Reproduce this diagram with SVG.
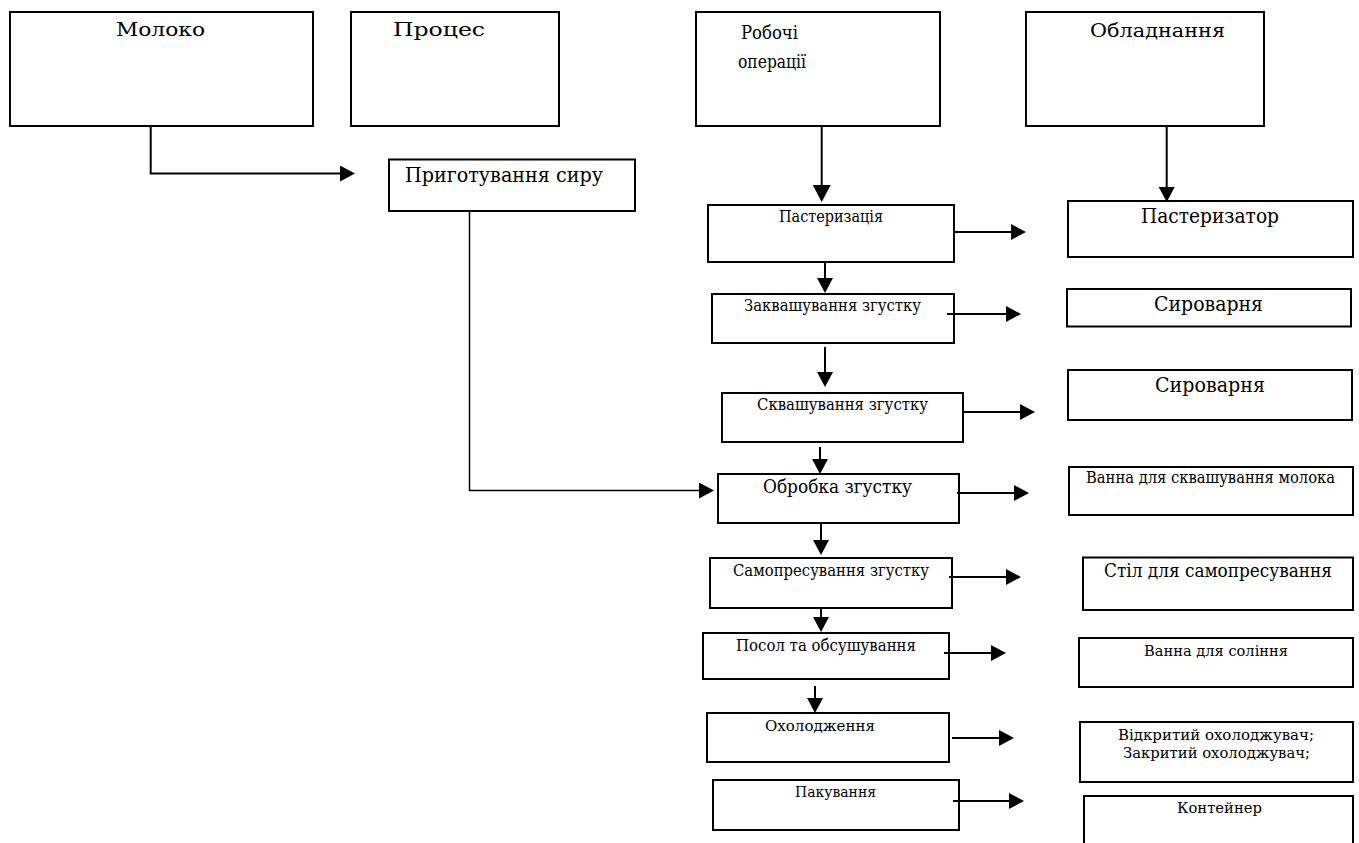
<svg xmlns="http://www.w3.org/2000/svg" width="1359" height="843" viewBox="0 0 1359 843">
<style>
.box{fill:#fff;stroke:#000;stroke-width:2}
.t{font-family:"DejaVu Serif","Liberation Serif",serif;fill:#000}
.c{fill:none;stroke:#000;stroke-width:2}
.thin{fill:none;stroke:#000;stroke-width:1.5}
</style>
<defs>
<marker id="ah" viewBox="0 0 15 16" refX="0" refY="8" markerWidth="15" markerHeight="16" markerUnits="userSpaceOnUse" orient="auto">
<path d="M0,0 L15,8 L0,16 Z" fill="#000"/>
</marker>
<marker id="ahL" viewBox="0 0 17 18" refX="0" refY="9" markerWidth="17" markerHeight="18" markerUnits="userSpaceOnUse" orient="auto">
<path d="M0,0 L17,9 L0,18 Z" fill="#000"/>
</marker>
</defs>
<rect width="1359" height="843" fill="#fff"/>

<g id="moloko"><rect class="box" x="10" y="12" width="303" height="114"/><text class="t" x="116" y="36" font-size="18" textLength="89" lengthAdjust="spacingAndGlyphs">Молоко</text></g>
<g id="protses"><rect class="box" x="351" y="12" width="208" height="114"/><text class="t" x="393" y="36" font-size="18" textLength="92" lengthAdjust="spacingAndGlyphs">Процес</text></g>
<g id="robochi"><rect class="box" x="696" y="12" width="244" height="114"/><text class="t" x="741" y="39" font-size="19" textLength="57" lengthAdjust="spacingAndGlyphs">Робочі</text><text class="t" x="738" y="68" font-size="19" textLength="68" lengthAdjust="spacingAndGlyphs">операції</text></g>
<g id="obladnannia"><rect class="box" x="1026" y="12" width="238" height="114"/><text class="t" x="1090" y="36.5" font-size="19" textLength="135" lengthAdjust="spacingAndGlyphs">Обладнання</text></g>

<g id="pryhotuvannia"><rect class="box" x="389" y="159.5" width="246" height="51.5"/><text class="t" x="405" y="182" font-size="21" textLength="198" lengthAdjust="spacingAndGlyphs">Приготування сиру</text></g>

<g id="op1"><rect class="box" x="708" y="205" width="246" height="57"/><text class="t" x="779" y="222" font-size="17" textLength="104" lengthAdjust="spacingAndGlyphs">Пастеризація</text></g>
<g id="op2"><rect class="box" x="712" y="294" width="242" height="49"/><text class="t" x="744" y="311" font-size="16" textLength="177" lengthAdjust="spacingAndGlyphs">Заквашування згустку</text></g>
<g id="op3"><rect class="box" x="722" y="393" width="241" height="49"/><text class="t" x="757" y="410" font-size="16" textLength="171" lengthAdjust="spacingAndGlyphs">Сквашування згустку</text></g>
<g id="op4"><rect class="box" x="718" y="474" width="241" height="49"/><text class="t" x="763" y="493" font-size="19" textLength="149" lengthAdjust="spacingAndGlyphs">Обробка згустку</text></g>
<g id="op5"><rect class="box" x="710" y="558" width="242" height="50"/><text class="t" x="733" y="576" font-size="16" textLength="196" lengthAdjust="spacingAndGlyphs">Самопресування згустку</text></g>
<g id="op6"><rect class="box" x="703" y="633" width="246" height="46"/><text class="t" x="736" y="651" font-size="16" textLength="180" lengthAdjust="spacingAndGlyphs">Посол та обсушування</text></g>
<g id="op7"><rect class="box" x="707" y="713" width="242" height="49"/><text class="t" x="765" y="731" font-size="15" textLength="110" lengthAdjust="spacingAndGlyphs">Охолодження</text></g>
<g id="op8"><rect class="box" x="713" y="780" width="246" height="50"/><text class="t" x="795" y="797" font-size="15" textLength="81" lengthAdjust="spacingAndGlyphs">Пакування</text></g>

<g id="eq1"><rect class="box" x="1068" y="201" width="285" height="56"/><text class="t" x="1141" y="223" font-size="21" textLength="138" lengthAdjust="spacingAndGlyphs">Пастеризатор</text></g>
<g id="eq2"><rect class="box" x="1067" y="289" width="284" height="37.5"/><text class="t" x="1154" y="311" font-size="20" textLength="109" lengthAdjust="spacingAndGlyphs">Сироварня</text></g>
<g id="eq3"><rect class="box" x="1068" y="370" width="284" height="50"/><text class="t" x="1155" y="392" font-size="20" textLength="110" lengthAdjust="spacingAndGlyphs">Сироварня</text></g>
<g id="eq4"><rect class="box" x="1069" y="467" width="284" height="48"/><text class="t" x="1086" y="483" font-size="16" textLength="249" lengthAdjust="spacingAndGlyphs">Ванна для сквашування молока</text></g>
<g id="eq5"><rect class="box" x="1083" y="557.5" width="270" height="52.5"/><text class="t" x="1104" y="577" font-size="19" textLength="228" lengthAdjust="spacingAndGlyphs">Стіл для самопресування</text></g>
<g id="eq6"><rect class="box" x="1079" y="638" width="274" height="49"/><text class="t" x="1144" y="656" font-size="15" textLength="144" lengthAdjust="spacingAndGlyphs">Ванна для соління</text></g>
<g id="eq7"><rect class="box" x="1080" y="722" width="273" height="60"/><text class="t" x="1118" y="740" font-size="15" textLength="196" lengthAdjust="spacingAndGlyphs">Відкритий охолоджувач;</text><text class="t" x="1123" y="758" font-size="15" textLength="187" lengthAdjust="spacingAndGlyphs">Закритий охолоджувач;</text></g>
<g id="eq8"><path class="box" d="M1084,846 V796 H1353 V846"/><text class="t" x="1177" y="813" font-size="15" textLength="85" lengthAdjust="spacingAndGlyphs">Контейнер</text></g>

<g id="connectors">
<path class="c" d="M150.7,126 V173.5 H340" marker-end="url(#ah)"/>
<path class="thin" d="M469.5,211 V490.5 H699" marker-end="url(#ah)"/>
<path class="c" d="M821.7,126 V185" marker-end="url(#ahL)"/>
<path class="c" d="M1166.7,126 V187" marker-end="url(#ah)"/>

<path class="c" d="M825,262 V278" marker-end="url(#ah)"/>
<path class="c" d="M825,347 V372" marker-end="url(#ah)"/>
<path class="c" d="M820,447 V459" marker-end="url(#ah)"/>
<path class="c" d="M821,523 V540" marker-end="url(#ah)"/>
<path class="c" d="M821,608 V617" marker-end="url(#ah)"/>
<path class="c" d="M815,686 V698" marker-end="url(#ah)"/>

<path class="c" d="M954,232 H1011" marker-end="url(#ah)"/>
<path class="c" d="M947,314 H1006" marker-end="url(#ah)"/>
<path class="c" d="M963,412 H1020" marker-end="url(#ah)"/>
<path class="c" d="M957,493 H1014" marker-end="url(#ah)"/>
<path class="c" d="M949,577 H1006" marker-end="url(#ah)"/>
<path class="c" d="M944,653 H991" marker-end="url(#ah)"/>
<path class="c" d="M952,738 H999" marker-end="url(#ah)"/>
<path class="c" d="M953,801 H1009" marker-end="url(#ah)"/>
</g>
</svg>
